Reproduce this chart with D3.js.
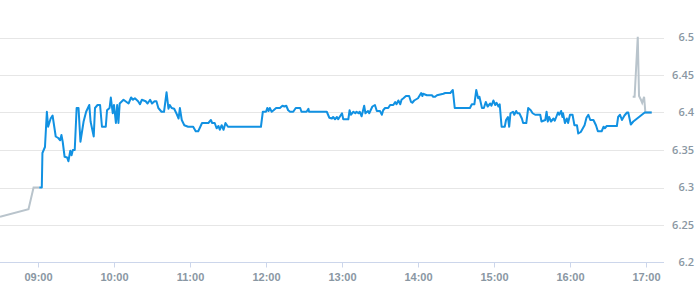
<!DOCTYPE html>
<html>
<head>
<meta charset="UTF-8">
<script src="https://d3js.org/d3.v7.min.js"></script>
<style>
  body { margin: 0; background: #fff; }
  svg { display: block; font-family: "Open Sans", sans-serif; }
  .lbl { font-size: 11px; font-weight: 600; fill: #8a97a3; }
</style>
</head>
<body>
<svg width="695" height="300"></svg>
<script>
// grey line before the session
const preMarket = [
  ["08:30:00", 6.261], ["08:52:30", 6.271], ["08:56:30", 6.300], ["09:01:00", 6.300]
];

// main session (blue)
const session = [
  ["09:01:00", 6.300], ["09:03:00", 6.300], ["09:03:30", 6.346], ["09:05:30", 6.354],
  ["09:07:00", 6.401], ["09:08:00", 6.381], ["09:10:00", 6.392], ["09:11:30", 6.396],
  ["09:14:00", 6.368], ["09:16:00", 6.366], ["09:17:30", 6.363], ["09:18:30", 6.370],
  ["09:19:30", 6.361], ["09:21:00", 6.341], ["09:23:00", 6.340], ["09:24:00", 6.335],
  ["09:25:30", 6.349], ["09:26:30", 6.343], ["09:27:30", 6.350], ["09:29:00", 6.350],
  ["09:30:30", 6.406], ["09:32:00", 6.406], ["09:33:30", 6.361], ["09:36:00", 6.388],
  ["09:38:00", 6.401], ["09:40:30", 6.410], ["09:41:30", 6.388], ["09:44:00", 6.368],
  ["09:45:00", 6.406], ["09:47:00", 6.410], ["09:49:00", 6.410], ["09:50:30", 6.381],
  ["09:53:30", 6.381], ["09:54:30", 6.403], ["09:56:30", 6.406], ["09:57:30", 6.420],
  ["09:59:00", 6.399], ["10:00:00", 6.410], ["10:01:30", 6.386], ["10:02:30", 6.410],
  ["10:03:30", 6.386], ["10:04:30", 6.412], ["10:07:30", 6.417], ["10:11:30", 6.412],
  ["10:13:30", 6.420], ["10:15:00", 6.417], ["10:16:30", 6.419], ["10:19:00", 6.415],
  ["10:20:30", 6.411], ["10:22:00", 6.417], ["10:25:00", 6.415], ["10:26:30", 6.412],
  ["10:28:30", 6.417], ["10:30:00", 6.412], ["10:32:00", 6.415], ["10:33:30", 6.415],
  ["10:35:00", 6.406], ["10:37:30", 6.401], ["10:39:30", 6.401], ["10:41:30", 6.427],
  ["10:43:00", 6.405], ["10:44:00", 6.410], ["10:45:30", 6.406], ["10:47:30", 6.405],
  ["10:49:30", 6.398], ["10:51:00", 6.392], ["10:52:00", 6.406], ["10:53:30", 6.390],
  ["10:55:30", 6.383], ["10:58:30", 6.381], ["11:02:30", 6.381], ["11:04:30", 6.375],
  ["11:06:30", 6.375], ["11:09:30", 6.386], ["11:14:30", 6.386], ["11:16:30", 6.390],
  ["11:17:30", 6.386], ["11:19:30", 6.386], ["11:21:00", 6.379], ["11:22:30", 6.382],
  ["11:23:30", 6.377], ["11:25:00", 6.383], ["11:26:30", 6.377], ["11:28:00", 6.386],
  ["11:30:00", 6.381], ["11:56:00", 6.381], ["11:57:30", 6.401], ["12:00:00", 6.401],
  ["12:01:00", 6.406], ["12:02:00", 6.402], ["12:03:00", 6.406], ["12:04:30", 6.401],
  ["12:06:00", 6.403], ["12:08:00", 6.406], ["12:11:00", 6.406], ["12:13:00", 6.409],
  ["12:14:30", 6.408], ["12:16:00", 6.409], ["12:17:30", 6.403], ["12:19:00", 6.401],
  ["12:21:30", 6.401], ["12:23:30", 6.406], ["12:27:00", 6.406], ["12:28:00", 6.401],
  ["12:32:00", 6.401], ["12:33:30", 6.405], ["12:34:00", 6.401], ["12:48:00", 6.401],
  ["12:50:00", 6.393], ["12:52:00", 6.392], ["12:53:00", 6.394], ["12:54:30", 6.391],
  ["12:56:00", 6.394], ["12:57:00", 6.391], ["13:00:00", 6.399], ["13:01:00", 6.391],
  ["13:05:00", 6.391], ["13:06:00", 6.403], ["13:07:00", 6.397], ["13:09:00", 6.401],
  ["13:10:30", 6.399], ["13:11:30", 6.401], ["13:13:00", 6.399], ["13:14:00", 6.401],
  ["13:15:30", 6.395], ["13:17:30", 6.409], ["13:18:30", 6.399], ["13:20:30", 6.402],
  ["13:21:30", 6.399], ["13:24:00", 6.408], ["13:26:00", 6.410], ["13:27:30", 6.402],
  ["13:30:00", 6.402], ["13:31:30", 6.397], ["13:32:30", 6.403], ["13:34:00", 6.406],
  ["13:36:30", 6.406], ["13:38:00", 6.410], ["13:40:30", 6.410], ["13:42:00", 6.414],
  ["13:43:00", 6.411], ["13:44:30", 6.416], ["13:46:00", 6.411], ["13:47:00", 6.417],
  ["13:48:30", 6.419], ["13:50:30", 6.422], ["13:53:00", 6.422], ["13:54:30", 6.414],
  ["13:55:30", 6.413], ["13:57:00", 6.416], ["13:59:00", 6.418], ["14:00:00", 6.419],
  ["14:02:30", 6.426], ["14:03:30", 6.422], ["14:04:00", 6.425], ["14:07:00", 6.423],
  ["14:11:00", 6.423], ["14:12:00", 6.421], ["14:13:30", 6.421], ["14:15:00", 6.423],
  ["14:20:00", 6.425], ["14:21:30", 6.426], ["14:25:30", 6.426], ["14:27:30", 6.430],
  ["14:29:00", 6.406], ["14:41:00", 6.406], ["14:42:30", 6.411], ["14:44:30", 6.411],
  ["14:46:00", 6.430], ["14:47:30", 6.419], ["14:48:30", 6.421], ["14:50:30", 6.406],
  ["14:52:00", 6.406], ["14:53:30", 6.414], ["14:55:00", 6.408], ["14:57:00", 6.412],
  ["14:58:00", 6.409], ["14:59:30", 6.416], ["15:01:00", 6.410], ["15:02:00", 6.413],
  ["15:03:30", 6.408], ["15:04:30", 6.411], ["15:06:00", 6.381], ["15:08:30", 6.381],
  ["15:09:30", 6.390], ["15:11:00", 6.394], ["15:12:00", 6.381], ["15:13:00", 6.399],
  ["15:15:00", 6.401], ["15:16:00", 6.397], ["15:17:30", 6.402], ["15:18:30", 6.399],
  ["15:20:00", 6.399], ["15:22:00", 6.392], ["15:23:00", 6.386], ["15:25:30", 6.386],
  ["15:27:00", 6.406], ["15:29:00", 6.403], ["15:30:30", 6.399], ["15:32:30", 6.397],
  ["15:36:30", 6.397], ["15:37:30", 6.388], ["15:40:30", 6.390], ["15:41:30", 6.401],
  ["15:42:30", 6.388], ["15:43:30", 6.394], ["15:45:00", 6.388], ["15:47:00", 6.392],
  ["15:48:00", 6.389], ["15:50:30", 6.400], ["15:51:30", 6.397], ["15:53:00", 6.402],
  ["15:54:00", 6.394], ["15:54:30", 6.399], ["15:56:00", 6.386], ["15:57:30", 6.392],
  ["15:58:30", 6.386], ["16:00:00", 6.397], ["16:02:00", 6.397], ["16:03:30", 6.383],
  ["16:05:30", 6.383], ["16:06:30", 6.372], ["16:08:30", 6.374], ["16:09:30", 6.377],
  ["16:11:30", 6.383], ["16:13:00", 6.393], ["16:14:30", 6.397], ["16:16:00", 6.390],
  ["16:18:30", 6.390], ["16:20:30", 6.383], ["16:22:00", 6.375], ["16:25:00", 6.375],
  ["16:26:30", 6.381], ["16:27:30", 6.379], ["16:29:00", 6.382], ["16:37:00", 6.382],
  ["16:38:00", 6.394], ["16:39:30", 6.397], ["16:41:00", 6.390], ["16:43:00", 6.396],
  ["16:45:00", 6.400], ["16:46:00", 6.400], ["16:48:00", 6.384], ["16:50:00", 6.388],
  ["16:59:00", 6.400], ["17:04:30", 6.400]
];

// grey line after the session
const postMarket = [
  ["16:49:30", 6.421], ["16:51:00", 6.421], ["16:53:30", 6.501], ["16:54:30", 6.422],
  ["16:56:00", 6.417], ["16:57:00", 6.413], ["16:58:30", 6.421], ["16:59:30", 6.400],
  ["17:04:30", 6.400]
];

const xTicks = ["09:00", "10:00", "11:00", "12:00", "13:00", "14:00", "15:00", "16:00", "17:00"];
const yTicks = [6.2, 6.25, 6.3, 6.35, 6.4, 6.45, 6.5];

const svg = d3.select("svg");
const parse = d3.timeParse("%H:%M:%S");
const parseHM = d3.timeParse("%H:%M");

const x = d3.scaleTime()
  .domain([parse("08:30:00"), parse("17:15:00")])
  .range([0, 665]);
const y = d3.scaleLinear()
  .domain([6.2, 6.5])
  .range([262.5, 37.5]);

// horizontal grid
svg.append("g")
  .selectAll("line")
  .data(yTicks.filter(d => d !== 6.2))
  .join("line")
  .attr("x1", 0).attr("x2", 664)
  .attr("y1", d => Math.round(y(d)) + 0.5)
  .attr("y2", d => Math.round(y(d)) + 0.5)
  .attr("stroke", "#e6e6e6");

// y labels on the right
svg.append("g")
  .selectAll("text")
  .data(yTicks)
  .join("text")
  .attr("class", "lbl")
  .attr("x", 694)
  .attr("y", d => y(d))
  .attr("dy", "0.35em")
  .attr("text-anchor", "end")
  .text(d => d3.format("")(d));

// x axis
const xAxis = svg.append("g")
  .attr("transform", "translate(0,262.5)")
  .call(d3.axisBottom(x)
    .tickValues(xTicks.map(parseHM))
    .tickSize(5)
    .tickSizeOuter(0)
    .tickPadding(6)
    .tickFormat(d3.timeFormat("%H:%M")));
xAxis.select(".domain").attr("stroke", "#ccd6eb").attr("d", "M0,0H664");
xAxis.selectAll(".tick line").attr("stroke", "#ccd6eb");
xAxis.selectAll(".tick text")
  .attr("class", "lbl")
  .attr("font-family", null)
  .attr("font-size", null)
  .attr("fill", null);

const line = d3.line()
  .x(d => x(parse(d[0])))
  .y(d => y(d[1]));

svg.append("path")
  .datum(preMarket)
  .attr("fill", "none")
  .attr("stroke", "#b9c4cc")
  .attr("stroke-width", 2)
  .attr("d", line);

svg.append("path")
  .datum(postMarket)
  .attr("fill", "none")
  .attr("stroke", "#b9c4cc")
  .attr("stroke-width", 2)
  .attr("d", line);

svg.append("path")
  .datum(session)
  .attr("fill", "none")
  .attr("stroke", "#1191e2")
  .attr("stroke-width", 2)
  .attr("stroke-linejoin", "round")
  .attr("d", line);
</script>
</body>
</html>
